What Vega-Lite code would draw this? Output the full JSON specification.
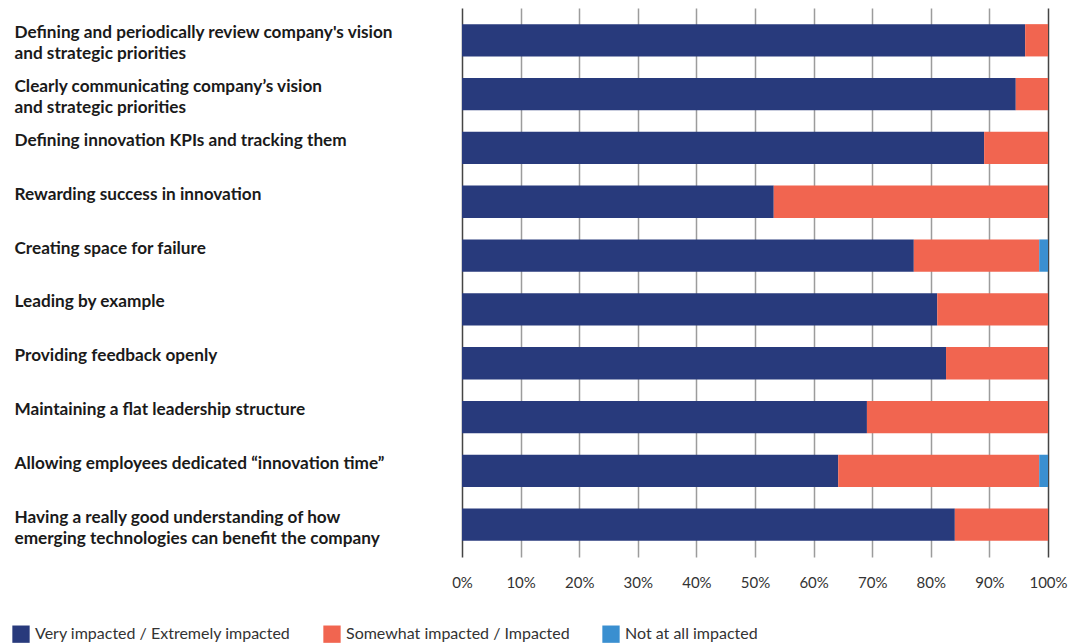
{
  "$schema": "https://vega.github.io/schema/vega-lite/v6.json",
  "autosize": "none",
  "width": 586,
  "height": 549,
  "padding": {"left": 462, "top": 8, "right": 23, "bottom": 86},
  "background": "white",
  "config": {"view": {"stroke": null}, "font": "Lato"},
  "data": {"values": [
    {"q": "Defining and periodically review company's vision|and strategic priorities", "c": "Very impacted / Extremely impacted", "v": 0.961},
    {"q": "Defining and periodically review company's vision|and strategic priorities", "c": "Somewhat impacted / Impacted", "v": 0.039},
    {"q": "Clearly communicating company’s vision|and strategic priorities", "c": "Very impacted / Extremely impacted", "v": 0.945},
    {"q": "Clearly communicating company’s vision|and strategic priorities", "c": "Somewhat impacted / Impacted", "v": 0.055},
    {"q": "Defining innovation KPIs and tracking them", "c": "Very impacted / Extremely impacted", "v": 0.891},
    {"q": "Defining innovation KPIs and tracking them", "c": "Somewhat impacted / Impacted", "v": 0.109},
    {"q": "Rewarding success in innovation", "c": "Very impacted / Extremely impacted", "v": 0.532},
    {"q": "Rewarding success in innovation", "c": "Somewhat impacted / Impacted", "v": 0.468},
    {"q": "Creating space for failure", "c": "Very impacted / Extremely impacted", "v": 0.771},
    {"q": "Creating space for failure", "c": "Somewhat impacted / Impacted", "v": 0.214},
    {"q": "Creating space for failure", "c": "Not at all impacted", "v": 0.015},
    {"q": "Leading by example", "c": "Very impacted / Extremely impacted", "v": 0.811},
    {"q": "Leading by example", "c": "Somewhat impacted / Impacted", "v": 0.189},
    {"q": "Providing feedback openly", "c": "Very impacted / Extremely impacted", "v": 0.826},
    {"q": "Providing feedback openly", "c": "Somewhat impacted / Impacted", "v": 0.174},
    {"q": "Maintaining a flat leadership structure", "c": "Very impacted / Extremely impacted", "v": 0.691},
    {"q": "Maintaining a flat leadership structure", "c": "Somewhat impacted / Impacted", "v": 0.309},
    {"q": "Allowing employees dedicated “innovation time”", "c": "Very impacted / Extremely impacted", "v": 0.642},
    {"q": "Allowing employees dedicated “innovation time”", "c": "Somewhat impacted / Impacted", "v": 0.343},
    {"q": "Allowing employees dedicated “innovation time”", "c": "Not at all impacted", "v": 0.015},
    {"q": "Having a really good understanding of how|emerging technologies can benefit the company", "c": "Very impacted / Extremely impacted", "v": 0.841},
    {"q": "Having a really good understanding of how|emerging technologies can benefit the company", "c": "Somewhat impacted / Impacted", "v": 0.159}
  ]},
  "mark": {"type": "bar"},
  "encoding": {
    "y": {
      "field": "q", "type": "nominal", "sort": null,
      "scale": {"paddingInner": 0.4, "paddingOuter": 0.3},
      "axis": {
        "title": null, "domain": false, "ticks": false, "grid": false,
        "labelAlign": "left", "labelPadding": 448, "labelBaseline": "top", "labelOffset": -16,
        "labelFont": "Lato", "labelFontSize": 17.2, "labelFontWeight": "bold", "labelColor": "#1a1a1a",
        "labelLineHeight": 21, "labelLimit": 0, "labelOverlap": false,
        "labelExpr": "split(datum.label, '|')"
      }
    },
    "x": {
      "field": "v", "type": "quantitative", "stack": "zero",
      "scale": {"domain": [0, 1], "nice": false},
      "axis": {
        "title": null, "format": "%", "values": [0,0.1,0.2,0.3,0.4,0.5,0.6,0.7,0.8,0.9,1],
        "domain": false, "ticks": false, "grid": true, "labelOverlap": false,
        "gridColor": {"condition": {"test": "datum.value == 0 || datum.value == 1", "value": "#444444"}, "value": "#9c9c9c"},
        "gridWidth": 1.5,
        "labelFont": "Lato", "labelFontSize": 15, "labelColor": "#333333", "labelPadding": 18,
        "labelFlush": false
      }
    },
    "order": {"field": "c", "type": "nominal", "sort": "descending"},
    "color": {
      "field": "c", "type": "nominal",
      "scale": {
        "domain": ["Very impacted / Extremely impacted", "Somewhat impacted / Impacted", "Not at all impacted"],
        "range": ["#283a7c", "#f16550", "#3a8fd0"]
      },
      "legend": {
        "title": null, "orient": "none", "direction": "horizontal",
        "legendX": -450, "legendY": 617,
        "symbolType": "square", "symbolSize": 300, "symbolStrokeWidth": 0, "symbolOpacity": 1,
        "labelFont": "Lato", "labelFontSize": 16, "labelColor": "#333333", "labelLimit": 0,
        "columnPadding": 32, "labelOffset": 5
      }
    }
  }
}
